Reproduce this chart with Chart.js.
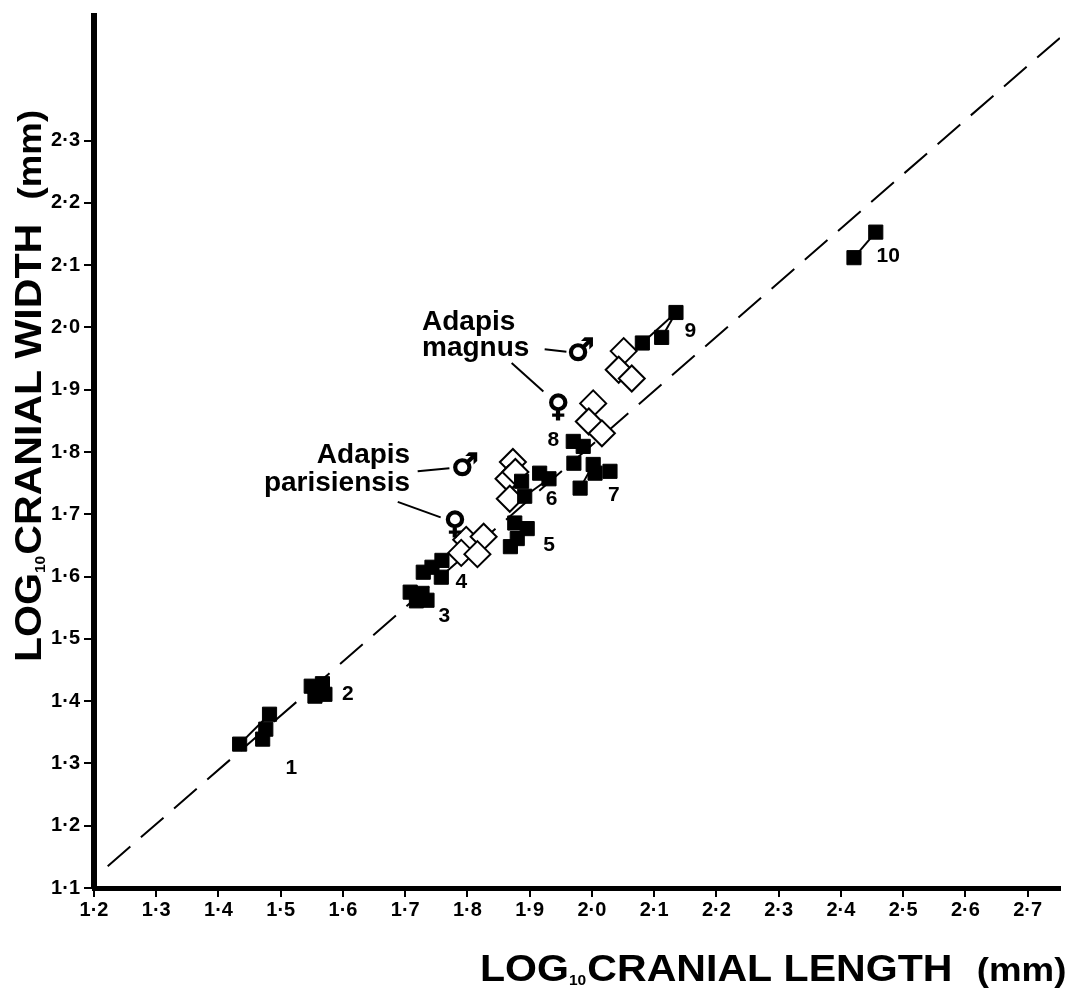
<!DOCTYPE html>
<html>
<head>
<meta charset="utf-8">
<script src="https://cdn.jsdelivr.net/npm/chart.js@4.4.0/dist/chart.umd.min.js"></script>
<style>
  html, body { margin: 0; background: #fff; }
</style>
</head>
<body>
<canvas id="chart" width="1075" height="998"></canvas>
<script>
const xTicks = [1.2, 1.3, 1.4, 1.5, 1.6, 1.7, 1.8, 1.9, 2.0, 2.1, 2.2, 2.3, 2.4, 2.5, 2.6, 2.7];
const yTicks = [1.1, 1.2, 1.3, 1.4, 1.5, 1.6, 1.7, 1.8, 1.9, 2.0, 2.1, 2.2, 2.3];

// filled squares: [log10 length, log10 width], one array per numbered species
const group1 = [[1.434, 1.331], [1.471, 1.339], [1.476, 1.355], [1.482, 1.379]];
const group2 = [[1.549, 1.424], [1.555, 1.408], [1.567, 1.428], [1.571, 1.411]];
const group3 = [[1.708, 1.575], [1.718, 1.561], [1.727, 1.573], [1.735, 1.562]];
const group4 = [[1.729, 1.607], [1.743, 1.615], [1.759, 1.626], [1.758, 1.599]];
const group5 = [[1.876, 1.686], [1.880, 1.661], [1.896, 1.677], [1.869, 1.648]];
const group6 = [[1.887, 1.753], [1.916, 1.766], [1.931, 1.757], [1.892, 1.729]];
const group7 = [[2.002, 1.780], [2.029, 1.769], [1.981, 1.742], [2.005, 1.766]];
const group8 = [[1.970, 1.817], [1.986, 1.809], [1.971, 1.782]];
const group9 = [[2.081, 1.975], [2.112, 1.984], [2.135, 2.024]];
const group10 = [[2.421, 2.112], [2.456, 2.153]];

// open diamonds: Adapis
const magnusMale = [[2.051, 1.962], [2.043, 1.932], [2.064, 1.918]];
const magnusFemale = [[2.002, 1.878], [1.995, 1.849], [2.016, 1.830]];
const parisMale = [[1.873, 1.784], [1.866, 1.757], [1.877, 1.768], [1.868, 1.725]];
const parisFemale = [[1.798, 1.659], [1.826, 1.664], [1.790, 1.638], [1.816, 1.636]];

// joins drawn between specimens
const joins = [
  [[1.434, 1.331], [1.482, 1.379]],
  [[1.892, 1.729], [1.931, 1.757]],
  [[1.981, 1.742], [2.002, 1.780]],
  [[2.081, 1.975], [2.135, 2.024]],
  [[2.112, 1.984], [2.135, 2.024]],
  [[2.421, 2.112], [2.456, 2.153]]
];

// dashed reference line end points
const refLineX = [1.222, 2.752];
const refLineY = [1.135, 2.465];

const groupNames = ['1', '2', '3', '4', '5', '6', '7', '8', '9', '10'];
const groupNameX = [1.517, 1.608, 1.763, 1.790, 1.931, 1.935, 2.035, 1.938, 2.158, 2.476];
const groupNameY = [1.293, 1.411, 1.537, 1.591, 1.650, 1.725, 1.731, 1.819, 1.994, 2.114];

const toPts = arr => arr.map(p => ({ x: p[0], y: p[1] }));
const fmt = v => v.toFixed(1).replace('.', '·');

const squareSet = arr => ({
  data: toPts(arr),
  pointStyle: 'rect',
  pointRadius: 10,
  backgroundColor: '#000',
  borderColor: '#000',
  borderWidth: 1,
  showLine: false
});
const diamondSet = arr => ({
  data: toPts(arr),
  pointStyle: 'rectRot',
  pointRadius: 13,
  backgroundColor: '#fff',
  borderColor: '#000',
  borderWidth: 2,
  showLine: false
});
const lineSet = (pts, dash) => ({
  data: toPts(pts),
  showLine: true,
  pointRadius: 0,
  borderColor: '#000',
  borderWidth: 2,
  borderDash: dash || [],
  fill: false
});

const datasets = [
  ...[group1, group2, group3, group4, group5, group6, group7, group8, group9, group10].map(squareSet),
  ...[magnusMale, magnusFemale, parisMale, parisFemale].map(diamondSet),
  ...joins.map(j => lineSet(j)),
  lineSet([[refLineX[0], refLineY[0]], [refLineX[1], refLineY[1]]], [30, 14])
];

const FONT = "'Liberation Sans', Arial, sans-serif";

const annotations = {
  id: 'annotations',
  afterDatasetsDraw(chart) {
    const { ctx, scales: { x, y } } = chart;
    const px = v => x.getPixelForValue(v);
    const py = v => y.getPixelForValue(v);
    ctx.save();
    ctx.fillStyle = '#000';
    ctx.strokeStyle = '#000';

    // group numbers
    ctx.font = `bold 21px ${FONT}`;
    ctx.textAlign = 'center';
    ctx.textBaseline = 'middle';
    groupNames.forEach((n, i) => ctx.fillText(n, px(groupNameX[i]), py(groupNameY[i])));

    // species names
    ctx.font = `bold 28px ${FONT}`;
    ctx.textAlign = 'left';
    ctx.fillText('Adapis', px(1.727), py(2.008));
    ctx.fillText('magnus', px(1.727), py(1.967));
    ctx.textAlign = 'right';
    ctx.fillText('Adapis', px(1.708), py(1.795));
    ctx.fillText('parisiensis', px(1.708), py(1.750));

    // leaders
    ctx.lineWidth = 2;
    [[1.924, 1.965, 1.959, 1.961], [1.871, 1.943, 1.922, 1.897],
     [1.720, 1.769, 1.771, 1.774], [1.688, 1.720, 1.757, 1.695]].forEach(l => {
      ctx.beginPath();
      ctx.moveTo(px(l[0]), py(l[1]));
      ctx.lineTo(px(l[2]), py(l[3]));
      ctx.stroke();
    });

    // sex symbols
    ctx.font = `bold 30px 'DejaVu Sans', sans-serif`;
    ctx.textAlign = 'center';
    ctx.lineWidth = 1.6;
    [['♂', 1.982, 1.961], ['♀', 1.946, 1.870], ['♂', 1.796, 1.776], ['♀', 1.780, 1.682]].forEach(s => {
      ctx.fillText(s[0], px(s[1]), py(s[2]));
      ctx.strokeText(s[0], px(s[1]), py(s[2]));
    });
    ctx.restore();
  },
  afterDraw(chart) {
    const { ctx } = chart;
    const drawTitle = (parts) => {
      let cx = 0;
      parts.forEach(p => {
        ctx.font = `bold ${p.size}px ${FONT}`;
        ctx.fillText(p.t, cx, p.dy || 0);
        cx += ctx.measureText(p.t).width + (p.gap || 0);
      });
    };
    const parts = name => [
      { t: 'LOG', size: 37 },
      { t: '10', size: 14, dy: 4, gap: 1 },
      { t: name, size: 37, gap: 22 },
      { t: '(mm)', size: 33 }
    ];

    // x title
    ctx.save();
    ctx.fillStyle = '#000';
    ctx.textBaseline = 'alphabetic';
    ctx.textAlign = 'left';
    ctx.translate(480, 981);
    ctx.scale(1.11, 1);
    drawTitle(parts('CRANIAL LENGTH'));
    ctx.restore();

    // y title
    ctx.save();
    ctx.fillStyle = '#000';
    ctx.textBaseline = 'alphabetic';
    ctx.textAlign = 'left';
    ctx.translate(41, 662);
    ctx.rotate(-Math.PI / 2);
    ctx.scale(1.11, 1);
    drawTitle(parts('CRANIAL WIDTH'));
    ctx.restore();
  }
};

new Chart(document.getElementById('chart'), {
  type: 'scatter',
  data: { datasets },
  options: {
    responsive: false,
    animation: false,
    devicePixelRatio: 1,
    layout: { padding: { top: 10, right: 7, left: 0, bottom: 0 } },
    plugins: { legend: { display: false }, tooltip: { enabled: false } },
    scales: {
      x: {
        type: 'linear',
        min: 1.2,
        max: 2.752,
        afterBuildTicks: s => { s.ticks = xTicks.map(v => ({ value: v })); },
        afterFit: s => { s.height = 110; },
        ticks: {
          callback: v => fmt(v),
          color: '#000',
          padding: 1,
          maxRotation: 0,
          autoSkip: false,
          font: { family: FONT, size: 20, weight: 'bold' }
        },
        grid: { drawOnChartArea: false, tickLength: 9, color: '#000', lineWidth: 2 },
        border: { display: true, color: '#000', width: 5 }
      },
      y: {
        type: 'linear',
        min: 1.1,
        max: 2.5,
        afterBuildTicks: s => { s.ticks = yTicks.map(v => ({ value: v })); },
        afterFit: s => { s.width = 94; },
        ticks: {
          callback: v => fmt(v),
          color: '#000',
          padding: 4,
          autoSkip: false,
          font: { family: FONT, size: 20, weight: 'bold' }
        },
        grid: { drawOnChartArea: false, tickLength: 10, color: '#000', lineWidth: 2 },
        border: { display: true, color: '#000', width: 6 }
      }
    }
  },
  plugins: [annotations]
});
</script>
</body>
</html>
